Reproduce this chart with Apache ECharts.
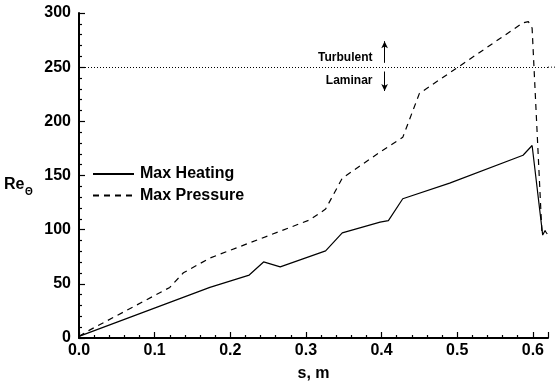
<!DOCTYPE html>
<html>
<head>
<meta charset="utf-8">
<script src="https://cdn.jsdelivr.net/npm/echarts@6/dist/echarts.min.js"></script>
<style>html,body{margin:0;padding:0;background:#fff}#c{width:555px;height:387px}</style>
</head>
<body>
<div id="c"></div>
<script>
// Data
var heatS = [0, 0.173, 0.225, 0.244, 0.266, 0.326, 0.348, 0.398, 0.409, 0.428, 0.49, 0.587, 0.599, 0.613, 0.616, 0.619];
var heatV = [1.5, 46.7, 58.1, 70.2, 65.7, 80.4, 97, 106.9, 108.4, 128.5, 143, 168.7, 177.7, 95, 99, 96];
var presS = [0, 0.0145, 0.12, 0.138, 0.173, 0.305, 0.326, 0.348, 0.398, 0.428, 0.45, 0.499, 0.587, 0.594, 0.599, 0.612, 0.617];
var presV = [1.5, 7.5, 46.7, 60.2, 73.8, 109, 119, 147.5, 171.6, 185.2, 225.8, 249, 291, 292, 286, 97, 99];
var seriesNames = ['Max Heating', 'Max Pressure'];
var transitionRe = 250;
var xMin = 0, xMax = 0.62, xInterval = 0.1;
var yMin = 0, yMax = 300, yInterval = 50;
var annoUp = 'Turbulent', annoDown = 'Laminar';
var xName = 's, m';

function pairs(a, b) { return a.map(function (v, i) { return [v, b[i]]; }); }

var FONT = 'Liberation Sans';
var FS = 16;
var chart = echarts.init(document.getElementById('c'), null, { renderer: 'canvas' });
chart.setOption({
  animation: false,
  backgroundColor: '#fff',
  grid: { left: 79, right: 7, top: 13, bottom: 42, containLabel: false },
  legend: {
    data: seriesNames,
    orient: 'vertical',
    left: 92, top: 166, padding: 0,
    itemWidth: 41, itemHeight: 14, itemGap: 5.6,
    itemStyle: { opacity: 0 },
    textStyle: { fontFamily: FONT, fontWeight: 'bold', fontSize: FS, color: '#000', padding: [0, 0, 0, 1] }
  },
  xAxis: {
    type: 'value', min: xMin, max: xMax, interval: xInterval,
    name: xName, nameLocation: 'middle', nameGap: 28,
    nameTextStyle: { fontFamily: FONT, fontWeight: 'bold', fontSize: FS, color: '#000' },
    axisLine: { lineStyle: { color: '#000', width: 2 } },
    axisTick: { inside: true, length: 6, lineStyle: { color: '#000', width: 1.2 } },
    minorTick: { show: true, splitNumber: 5, length: 3, lineStyle: { color: '#000', width: 1.2 } },
    splitLine: { show: false },
    axisLabel: { fontFamily: FONT, fontWeight: 'bold', fontSize: FS, color: '#000', margin: 5, showMaxLabel: false,
      formatter: function (v) { return v.toFixed(1); } }
  },
  yAxis: {
    type: 'value', min: yMin, max: yMax, interval: yInterval,
    axisLine: { show: true, lineStyle: { color: '#000', width: 2 } },
    axisTick: { show: true, inside: true, length: 6, lineStyle: { color: '#000', width: 1.2 } },
    minorTick: { show: true, splitNumber: 5, length: 3, lineStyle: { color: '#000', width: 1.2 } },
    splitLine: { show: false },
    axisLabel: { fontFamily: FONT, fontWeight: 'bold', fontSize: FS, color: '#000', margin: 8 }
  },
  series: [
    {
      name: seriesNames[0], type: 'line', data: pairs(heatS, heatV), symbol: 'none',
      lineStyle: { color: '#000', width: 1.2 }, itemStyle: { color: '#000' },
      markLine: {
        silent: true, symbol: ['none', 'arrow'], symbolSize: [5, 7],
        label: { show: false },
        lineStyle: { color: '#000', width: 1, type: 'solid' },
        data: [
          [{ coord: [0.404, 254] }, { coord: [0.404, 274] }],
          [{ coord: [0.404, 246] }, { coord: [0.404, 228] }]
        ]
      }
    },
    {
      name: seriesNames[1], type: 'line', data: pairs(presS, presV), symbol: 'none',
      lineStyle: { color: '#000', width: 1.2, type: [6, 5] }, itemStyle: { color: '#000' },
      markLine: {
        silent: true, symbol: 'none', label: { show: false },
        lineStyle: { color: '#000', width: 1, type: [1, 2] },
        data: [{ yAxis: transitionRe }]
      }
    }
  ]
});

var pUp = chart.convertToPixel({ gridIndex: 0 }, [0.388, 258.4]);
var pDn = chart.convertToPixel({ gridIndex: 0 }, [0.388, 237.6]);
var pLineEnd = chart.convertToPixel({ gridIndex: 0 }, [xMax, transitionRe]);
chart.setOption({
  graphic: [
    { type: 'line', shape: { x1: pLineEnd[0], y1: pLineEnd[1], x2: chart.getWidth(), y2: pLineEnd[1] },
      style: { stroke: '#000', lineWidth: 1, lineDash: [1, 2] } },
    { type: 'text', x: pUp[0], y: pUp[1], style: { text: annoUp, fill: '#000', font: 'bold 12px ' + FONT, textAlign: 'right', textVerticalAlign: 'middle' } },
    { type: 'text', x: pDn[0], y: pDn[1], style: { text: annoDown, fill: '#000', font: 'bold 12px ' + FONT, textAlign: 'right', textVerticalAlign: 'middle' } },
    { type: 'text', left: 4, top: 177, style: { text: 'Re', fill: '#000', font: 'bold 16px ' + FONT } },
    { type: 'text', left: 25, top: 187, style: { text: 'Θ', fill: '#000', font: 'bold 10px ' + FONT } }
  ]
});
</script>
</body>
</html>
